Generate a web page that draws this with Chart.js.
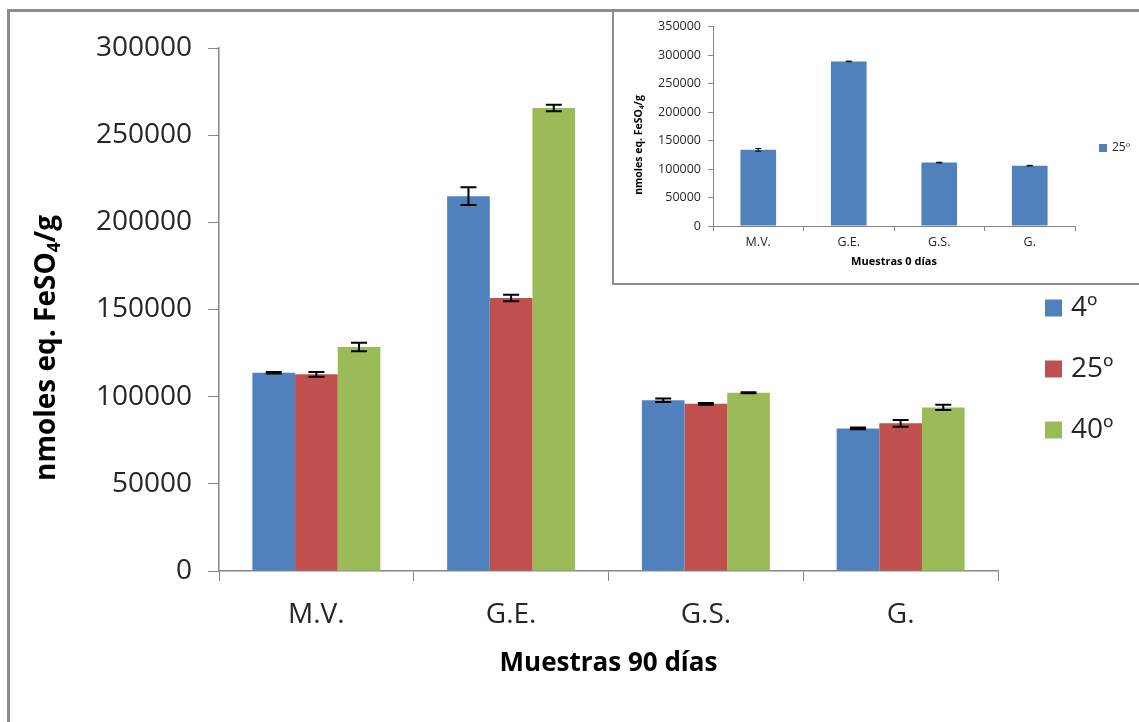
<!DOCTYPE html>
<html lang="es">
<head>
<meta charset="utf-8">
<title>Capacidad antioxidante – nmoles eq. FeSO4/g</title>
<script src="https://cdn.jsdelivr.net/npm/chart.js@4.4.1/dist/chart.umd.min.js"></script>
<style>
  html, body { margin: 0; padding: 0; background: #fff; }
  #wrap { position: relative; width: 1139px; height: 722px; overflow: hidden; background: #fff; }
  #mainChart { position: absolute; left: 0; top: 0; }
  #frame { position: absolute; left: 7px; top: 9px; right: -5px; bottom: -5px;
           border-top: 3px solid #8c8c8c; border-left: 3px solid #8c8c8c; pointer-events: none; }
  #insetBox { position: absolute; left: 612px; top: 12px; width: 527px; height: 271px;
              background: #fff; border-left: 2px solid #8c8c8c; border-bottom: 2px solid #8c8c8c; }
  #insetChart { position: absolute; left: 0; top: 0; }
</style>
</head>
<body>
<div id="wrap">
  <canvas id="mainChart" width="1139" height="722"></canvas>
  <div id="frame"></div>
  <div id="insetBox"><canvas id="insetChart" width="525" height="271"></canvas></div>
</div>
<script>
// ---- Data: 90-day samples at three storage temperatures ----
const categories = ['M.V.', 'G.E.', 'G.S.', 'G.'];
const seriesLabels = ['4º', '25º', '40º'];
const seriesColors = ['#4F81BD', '#C0504D', '#9BBB59'];
const values4  = [113700, 215000, 97900, 81800];
const values25 = [112800, 156600, 95900, 84700];
const values40 = [128500, 265600, 102300, 93800];
const errors4  = [400, 5100, 1000, 500];
const errors25 = [1400, 1900, 500, 1900];
const errors40 = [2400, 1900, 300, 1500];
const mainYMax = 300000;
const mainYStep = 50000;

// ---- Data: 0-day samples (25º only) ----
const insetLabels = ['25º'];
const insetValues25 = [133600, 288800, 111300, 105900];
const insetErrors25 = [2300, 500, 600, 500];
const insetYMax = 350000;
const insetYStep = 50000;

const FONT = "'Open Sans', 'DejaVu Sans', sans-serif";
const AXIS_GREY = '#868686';
const TEXT_GREY = '#262626';

// Error bars drawn from each dataset's `errors` array through the value scale
const errorBars = {
  id: 'errorBars',
  afterDatasetsDraw(chart, args, opts) {
    const ctx = chart.ctx;
    const yScale = chart.scales.y;
    chart.data.datasets.forEach((ds, di) => {
      if (!ds.errors) return;
      const meta = chart.getDatasetMeta(di);
      meta.data.forEach((bar, i) => {
        const v = ds.data[i], e = ds.errors[i];
        const yTop = yScale.getPixelForValue(v + e);
        const yBot = yScale.getPixelForValue(v - e);
        ctx.save();
        ctx.strokeStyle = opts.color;
        ctx.lineWidth = opts.width;
        ctx.beginPath();
        ctx.moveTo(bar.x, yTop); ctx.lineTo(bar.x, yBot);
        ctx.moveTo(bar.x - opts.cap, yTop); ctx.lineTo(bar.x + opts.cap, yTop);
        ctx.moveTo(bar.x - opts.cap, yBot); ctx.lineTo(bar.x + opts.cap, yBot);
        ctx.stroke();
        ctx.restore();
      });
    });
  }
};

// Axis titles; the y title supports a subscript segment
const axisTitles = {
  id: 'axisTitles',
  afterDraw(chart, args, opts) {
    const ctx = chart.ctx;
    const area = chart.chartArea;
    ctx.save();
    ctx.fillStyle = opts.color;
    // x title, centred under the plot area
    ctx.font = `bold ${opts.x.size}px ${FONT}`;
    ctx.textAlign = 'center';
    ctx.textBaseline = 'middle';
    ctx.fillText(opts.x.text, (area.left + area.right) / 2, opts.x.y);
    // y title, rotated
    const parts = opts.y.parts;
    const size = opts.y.size;
    const subSize = size * 0.62;
    const widths = parts.map(p => {
      ctx.font = `bold ${p.sub ? subSize : size}px ${FONT}`;
      return ctx.measureText(p.text).width;
    });
    const total = widths.reduce((a, b) => a + b, 0);
    ctx.translate(opts.y.x, opts.y.y);
    ctx.rotate(-Math.PI / 2);
    ctx.textAlign = 'left';
    let pos = -total / 2;
    parts.forEach((p, i) => {
      ctx.font = `bold ${p.sub ? subSize : size}px ${FONT}`;
      ctx.fillText(p.text, pos, p.sub ? size * 0.28 : 0);
      pos += widths[i];
    });
    ctx.restore();
  }
};

// Square-marker legend stacked vertically
const boxLegend = {
  id: 'boxLegend',
  afterDraw(chart, args, opts) {
    const ctx = chart.ctx;
    ctx.save();
    ctx.font = `${opts.size}px ${FONT}`;
    ctx.textAlign = 'left';
    ctx.textBaseline = 'middle';
    chart.data.datasets.forEach((ds, i) => {
      const cy = opts.y + i * opts.spacing;
      ctx.fillStyle = ds.backgroundColor;
      ctx.fillRect(opts.x, cy - opts.box / 2, opts.box, opts.box);
      ctx.fillStyle = opts.color;
      ctx.fillText(ds.label, opts.x + opts.box + opts.gap, cy);
    });
    ctx.restore();
  }
};

function axisOptions(cfg) {
  return {
    x: {
      grid: { display: true, drawOnChartArea: false, drawTicks: true, tickLength: cfg.xTick, color: AXIS_GREY, lineWidth: 1 },
      border: { display: true, color: AXIS_GREY, width: cfg.border },
      ticks: { color: TEXT_GREY, font: { family: FONT, size: cfg.xFont }, padding: cfg.xPad, maxRotation: 0 },
      afterFit(s) { s.height = cfg.xHeight; }
    },
    y: {
      min: 0, max: cfg.yMax,
      grid: { display: true, drawOnChartArea: false, drawTicks: true, tickLength: cfg.yTick, color: AXIS_GREY, lineWidth: 1 },
      border: { display: true, color: AXIS_GREY, width: cfg.border },
      ticks: { stepSize: cfg.yStep, color: TEXT_GREY, font: { family: FONT, size: cfg.yFont }, padding: cfg.yPad,
               callback: v => String(v) },
      afterFit(s) { s.width = cfg.yWidth; }
    }
  };
}

// ---- Main chart: 90 days ----
new Chart(document.getElementById('mainChart'), {
  type: 'bar',
  data: {
    labels: categories,
    datasets: [
      { label: seriesLabels[0], data: values4,  errors: errors4,  backgroundColor: seriesColors[0] },
      { label: seriesLabels[1], data: values25, errors: errors25, backgroundColor: seriesColors[1] },
      { label: seriesLabels[2], data: values40, errors: errors40, backgroundColor: seriesColors[2] }
    ]
  },
  options: {
    responsive: false,
    animation: false,
    devicePixelRatio: 1,
    categoryPercentage: 0.657,
    barPercentage: 1,
    layout: { padding: { left: 0, top: 48, right: 141, bottom: 0 } },
    scales: axisOptions({ xTick: 10, yTick: 11, border: 1.5, xFont: 28, yFont: 28, xPad: 17, yPad: 16,
                          xHeight: 151, yWidth: 219, yMax: mainYMax, yStep: mainYStep }),
    plugins: {
      legend: { display: false },
      tooltip: { enabled: false },
      errorBars: { color: '#000', width: 2, cap: 8 },
      axisTitles: {
        color: '#000',
        x: { text: 'Muestras 90 días', size: 26, y: 664 },
        y: { parts: [{ text: 'nmoles eq. FeSO' }, { text: '4', sub: true }, { text: '/g' }], size: 28, x: 47, y: 348 }
      },
      boxLegend: { x: 1045, y: 308, spacing: 61, box: 17, gap: 9, size: 28, color: TEXT_GREY }
    }
  },
  plugins: [errorBars, axisTitles, boxLegend]
});

// ---- Inset chart: 0 days ----
new Chart(document.getElementById('insetChart'), {
  type: 'bar',
  data: {
    labels: categories,
    datasets: [
      { label: insetLabels[0], data: insetValues25, errors: insetErrors25, backgroundColor: seriesColors[0] }
    ]
  },
  options: {
    responsive: false,
    animation: false,
    devicePixelRatio: 1,
    categoryPercentage: 0.394,
    barPercentage: 1,
    layout: { padding: { left: 0, top: 13, right: 64, bottom: 0 } },
    scales: axisOptions({ xTick: 5, yTick: 5, border: 1, xFont: 12.5, yFont: 12.5, xPad: 4, yPad: 7,
                          xHeight: 57, yWidth: 99, yMax: insetYMax, yStep: insetYStep }),
    plugins: {
      legend: { display: false },
      tooltip: { enabled: false },
      errorBars: { color: '#000', width: 1, cap: 3 },
      axisTitles: {
        color: '#000',
        x: { text: 'Muestras 0 días', size: 11, y: 249.5 },
        y: { parts: [{ text: 'nmoles eq. FeSO' }, { text: '4', sub: true }, { text: '/g' }], size: 10.5, x: 25, y: 133 }
      },
      boxLegend: { x: 485, y: 136, spacing: 20, box: 8, gap: 5, size: 12, color: TEXT_GREY }
    }
  },
  plugins: [errorBars, axisTitles, boxLegend]
});
</script>
</body>
</html>
